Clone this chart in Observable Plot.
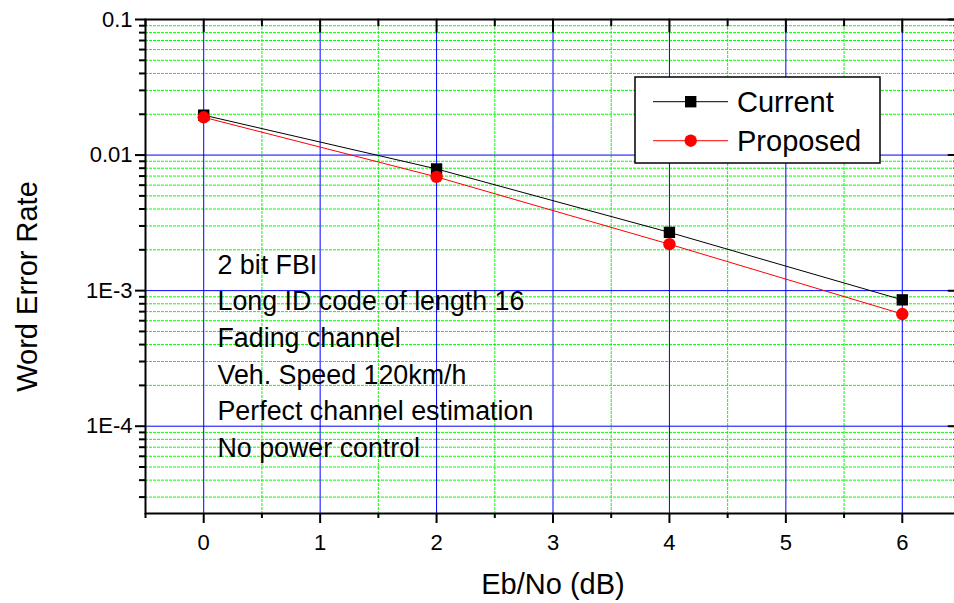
<!DOCTYPE html>
<html>
<head>
<meta charset="utf-8">
<script src="https://cdn.jsdelivr.net/npm/d3@7"></script>
<script src="https://cdn.jsdelivr.net/npm/@observablehq/plot@0.6"></script>
<style>
  html, body { margin: 0; padding: 0; background: #ffffff; }
  #chart { position: relative; width: 954px; height: 603px; overflow: hidden; }
  #chart svg { display: block; }
</style>
</head>
<body>
<div id="chart"></div>
<script>
// ---- data ----
const ebno = [0, 2, 4, 6];
const currentWER = [0.0197, 0.0079, 0.00269, 0.000855];
const proposedWER = [0.0190, 0.0069, 0.00220, 0.000672];
const seriesNames = ["Current", "Proposed"];
const seriesColors = ["#000000", "#ff0000"];

const xTicks = [0, 1, 2, 3, 4, 5, 6];
const xMinorTicks = [-0.5, 0.5, 1.5, 2.5, 3.5, 4.5, 5.5, 6.5];
const yTicks = [0.1, 0.01, 0.001, 0.0001];
const yTickLabels = ["0.1", "0.01", "1E-3", "1E-4"];
const yMinorMultipliers = [2, 3, 4, 5, 6, 7, 8, 9];
const yDecades = [0.00001, 0.0001, 0.001, 0.01];

const xTitle = "Eb/No (dB)";
const yTitle = "Word Error Rate";
const notes = [
  "2 bit FBI",
  "Long ID code of length 16",
  "Fading channel",
  "Veh. Speed 120km/h",
  "Perfect channel estimation",
  "No power control"
];

const xDomain = [-0.5, 6.5];
const yDomain = [2.27e-5, 0.1];

// ---- derived tables ----
const rows = [];
ebno.forEach((x, i) => {
  rows.push({x, y: currentWER[i], s: seriesNames[0]});
});
ebno.forEach((x, i) => {
  rows.push({x, y: proposedWER[i], s: seriesNames[1]});
});
const curRows = rows.filter(d => d.s === seriesNames[0]);
const proRows = rows.filter(d => d.s === seriesNames[1]);

const yMinorTicks = yDecades.flatMap(d => yMinorMultipliers.map(m => m * d))
  .filter(v => v >= yDomain[0] && v <= yDomain[1]);
const xMinorGrid = xMinorTicks.filter(v => v > xDomain[0] && v < xDomain[1]);
const yMajorGrid = yTicks.filter(v => v < yDomain[1]);
const labelOf = new Map(yTicks.map((v, i) => [v, yTickLabels[i]]));

const tickShape = {draw(context, l) { context.moveTo(0, 0); context.lineTo(0, -l); }};
const FONT = "'Liberation Sans', Arial, Helvetica, sans-serif";

const svg = Plot.plot({
  width: 954,
  height: 603,
  marginLeft: 145,
  marginRight: -6,
  marginTop: 19,
  marginBottom: 90,
  style: {fontFamily: FONT, fontSize: "22px", color: "#000", background: "#fff", overflow: "hidden"},
  x: {type: "linear", domain: xDomain},
  y: {type: "log", domain: yDomain},
  marks: [
    // minor grid
    Plot.ruleY(yMinorTicks, {stroke: "#00ff00", strokeWidth: 1, strokeDasharray: "3,1"}),
    Plot.ruleX(xMinorGrid, {stroke: "#00ff00", strokeWidth: 1, strokeDasharray: "3,1"}),
    // major grid
    Plot.ruleY(yMajorGrid, {stroke: "#0000ff", strokeWidth: 1}),
    Plot.ruleX(xTicks, {stroke: "#0000ff", strokeWidth: 1}),
    // annotations
    Plot.text([notes.join("\n")], {
      frameAnchor: "top-left", dx: 72, dy: 228, textAnchor: "start", lineAnchor: "top",
      fontSize: 26.8, lineHeight: 36.7 / 26.8, fill: "#000"
    }),
    // series
    Plot.line(curRows, {x: "x", y: "y", stroke: seriesColors[0], strokeWidth: 1}),
    Plot.line(proRows, {x: "x", y: "y", stroke: seriesColors[1], strokeWidth: 1}),
    Plot.dot(curRows, {x: "x", y: "y", symbol: "square", r: 6.4, fill: seriesColors[0], stroke: "none"}),
    Plot.dot(proRows, {x: "x", y: "y", symbol: "circle", r: 6.2, fill: seriesColors[1], stroke: "none"}),
    // frame
    Plot.frame({stroke: "#000", strokeWidth: 2}),
    // left axis
    Plot.axisY(yTicks, {anchor: "left", tickSize: 10, tickPadding: 3, strokeWidth: 2, fontSize: 22,
      tickFormat: d => labelOf.get(d), label: null}),
    Plot.axisY(yMinorTicks, {anchor: "left", tickSize: 6, strokeWidth: 2, tickFormat: () => "", label: null}),
    // bottom axis
    Plot.axisX(xTicks, {anchor: "bottom", tickSize: 10, tickPadding: 11, strokeWidth: 2, fontSize: 22,
      tickFormat: d => String(d), label: null}),
    Plot.axisX(xMinorTicks, {anchor: "bottom", tickSize: 5, strokeWidth: 2, tickFormat: () => "", label: null}),
    // top ticks (inward)
    Plot.vector(xTicks, {x: d => d, frameAnchor: "top", length: 12, rotate: 180, anchor: "start", shape: tickShape, stroke: "#000", strokeWidth: 2}),
    Plot.vector(xMinorTicks, {x: d => d, frameAnchor: "top", length: 6, rotate: 180, anchor: "start", shape: tickShape, stroke: "#000", strokeWidth: 2}),
    // right ticks (inward)
    Plot.vector(yTicks, {y: d => d, frameAnchor: "right", length: 12, rotate: -90, anchor: "start", shape: tickShape, stroke: "#000", strokeWidth: 2}),
    Plot.vector(yMinorTicks, {y: d => d, frameAnchor: "right", length: 6, rotate: -90, anchor: "start", shape: tickShape, stroke: "#000", strokeWidth: 2}),
    // axis titles
    Plot.text([xTitle], {frameAnchor: "bottom", dy: 71, textAnchor: "middle", lineAnchor: "middle", fontSize: 29, fill: "#000"}),
    Plot.text([yTitle], {frameAnchor: "left", dx: -118, dy: 20, rotate: -90, textAnchor: "middle", lineAnchor: "middle", fontSize: 29, fill: "#000"})
  ]
});

// ---- legend ----
const g = d3.select(svg).append("g").attr("font-family", FONT).attr("text-anchor", "start");
g.append("rect").attr("x", 635).attr("y", 77).attr("width", 245).attr("height", 86)
  .attr("fill", "#fff").attr("stroke", "#000").attr("stroke-width", 1.5);
const legendRowsY = [101.7, 140.7];
seriesNames.forEach((name, i) => {
  const yy = legendRowsY[i];
  g.append("line").attr("x1", 653).attr("x2", 728).attr("y1", yy).attr("y2", yy)
    .attr("stroke", seriesColors[i]).attr("stroke-width", 1);
  if (i === 0) {
    g.append("rect").attr("x", 690.7 - 5.7).attr("y", yy - 5.7).attr("width", 11.4).attr("height", 11.4)
      .attr("fill", seriesColors[i]);
  } else {
    g.append("circle").attr("cx", 690.7).attr("cy", yy).attr("r", 6.2).attr("fill", seriesColors[i]);
  }
  g.append("text").attr("x", 737).attr("y", yy + 10.4).attr("text-anchor", "start")
    .attr("font-size", 29).attr("fill", "#000").text(name);
});

document.getElementById("chart").appendChild(svg);
</script>
</body>
</html>
